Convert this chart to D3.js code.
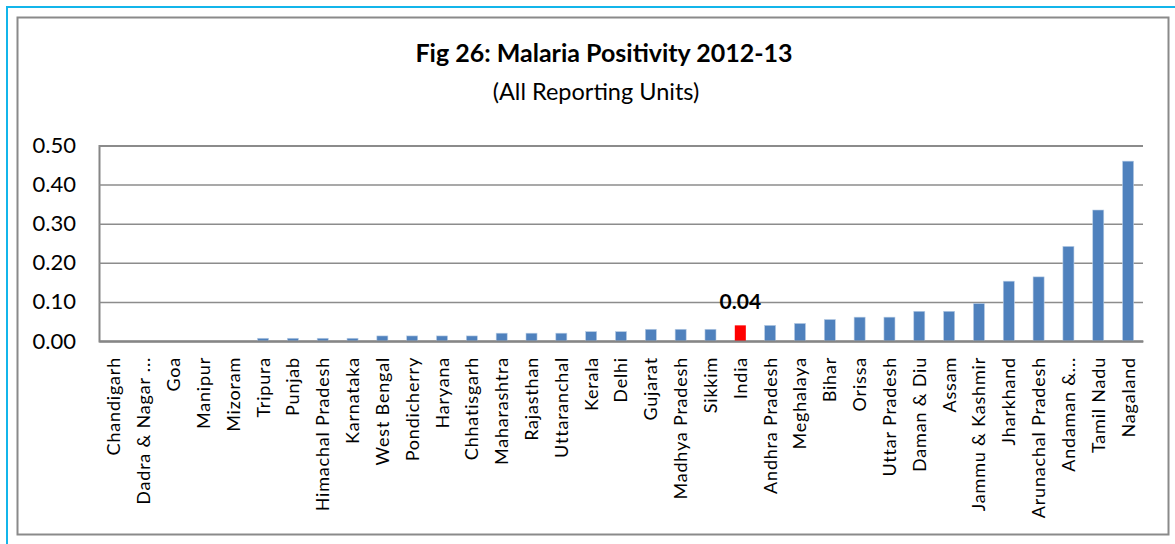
<!doctype html>
<html>
    <head>
        <title>Fig 26 Malaria Positivity</title>
        <script src="https://d3js.org/d3.v7.min.js"></script>
        <style>
            body { margin: 0; background: #fff; }
        </style>
    </head>

    <body>
        <div id="my_dataviz"></div>
        <script>
            // data
            var states = ["Chandigarh", "Dadra & Nagar ...", "Goa", "Manipur", "Mizoram", "Tripura", "Punjab",
                "Himachal Pradesh", "Karnataka", "West Bengal", "Pondicherry", "Haryana", "Chhatisgarh",
                "Maharashtra", "Rajasthan", "Uttaranchal", "Kerala", "Delhi", "Gujarat", "Madhya Pradesh",
                "Sikkim", "India", "Andhra Pradesh", "Meghalaya", "Bihar", "Orissa", "Uttar Pradesh",
                "Daman & Diu", "Assam", "Jammu & Kashmir", "Jharkhand", "Arunachal Pradesh", "Andaman &...",
                "Tamil Nadu", "Nagaland"];
            var positivity = [0, 0, 0, 0, 0, 0.007, 0.007, 0.007, 0.007, 0.013, 0.013, 0.013, 0.013,
                0.02, 0.02, 0.02, 0.024, 0.024, 0.03, 0.03, 0.03, 0.04, 0.04, 0.045, 0.055, 0.061, 0.061,
                0.076, 0.076, 0.096, 0.153, 0.164, 0.242, 0.335, 0.46];
            var yTicks = [0, 0.1, 0.2, 0.3, 0.4, 0.5];
            var highlight = "India";

            var data = states.map(function(s, i) { return {name: s, value: positivity[i]}; });

            // page size and plot area
            var W = 1175, H = 544;
            var margin = {top: 145.5, right: 32, bottom: 203, left: 99},
                width = W - margin.left - margin.right,
                height = H - margin.top - margin.bottom;

            var root = d3.select("#my_dataviz")
            .append("svg")
                .attr("width", W)
                .attr("height", H);

            // outer cyan border and grey chart frame
            root.append("rect")
                .attr("x", 7).attr("y", 7)
                .attr("width", W + 10).attr("height", H + 10)
                .attr("fill", "none")
                .attr("stroke", "#13b5ea")
                .attr("stroke-width", 2);
            root.append("rect")
                .attr("x", 17.5).attr("y", 17.5)
                .attr("width", 1151).attr("height", 517)
                .attr("fill", "#fff")
                .attr("stroke", "#8a8a8a")
                .attr("stroke-width", 2);

            // titles
            root.append("text")
                .attr("x", 604).attr("y", 62)
                .attr("text-anchor", "middle")
                .style("font-family", "Lato")
                .style("font-weight", "bold")
                .style("font-size", "25px")
                .text("Fig 26:  Malaria Positivity 2012-13");
            root.append("text")
                .attr("x", 596).attr("y", 100)
                .attr("text-anchor", "middle")
                .style("font-family", "Lato")
                .style("font-size", "23.5px")
                .text("(All Reporting Units)");

            var svg = root.append("g")
                .attr("transform", "translate(" + margin.left + "," + margin.top + ")");

            var x = d3.scaleBand()
                .domain(states)
                .range([0, width])
                .paddingInner(0.63)
                .paddingOuter(0.315);

            var y = d3.scaleLinear()
                .domain([0, 0.5])
                .range([height, 0]);

            // Y axis with gridlines
            var yAxis = svg.append("g")
                .call(d3.axisLeft(y)
                    .tickValues(yTicks)
                    .tickFormat(d3.format(".2f"))
                    .tickSize(-width)
                    .tickPadding(23));
            yAxis.select(".domain").attr("stroke", "#868686").attr("stroke-width", 2);
            yAxis.selectAll(".tick line").attr("stroke", "#8c8c8c").attr("stroke-width", 1.5);
            yAxis.selectAll(".tick text")
                .style("font-family", "Lato")
                .style("font-size", "22px")
                .attr("fill", "#000");

            // bars
            svg.selectAll(".bar")
                .data(data)
                .enter()
                .append("rect")
                .attr("class", "bar")
                .attr("x", function(d) { return x(d.name); })
                .attr("y", function(d) { return y(d.value); })
                .attr("width", x.bandwidth())
                .attr("height", function(d) { return height - y(d.value); })
                .attr("fill", function(d) { return d.name == highlight ? "#ff0000" : "#4f81bd"; })
                .attr("stroke", function(d) { return d.name == highlight ? "none" : "#b9cde5"; })
                .attr("stroke-width", 0.6);

            // value label on India
            var hi = data.filter(function(d) { return d.name == highlight; })[0];
            svg.append("text")
                .attr("x", x(hi.name) + x.bandwidth() / 2)
                .attr("y", y(hi.value) - 16)
                .attr("text-anchor", "middle")
                .style("font-family", "Lato")
                .style("font-weight", "bold")
                .style("font-size", "21px")
                .text(d3.format(".2f")(hi.value));

            // X axis with rotated state names
            var xAxis = svg.append("g")
                .attr("transform", "translate(0," + height + ")")
                .call(d3.axisBottom(x).tickSize(0).tickSizeOuter(0));
            xAxis.select(".domain").attr("stroke", "#868686").attr("stroke-width", 2);
            xAxis.selectAll(".tick text")
                .attr("transform", "rotate(-90)")
                .attr("x", -16)
                .attr("y", 0)
                .attr("dy", "0.36em")
                .style("text-anchor", "end")
                .style("font-family", "Lato")
                .style("font-size", "18px")
                .style("letter-spacing", "0.8px")
                .attr("fill", "#000");
        </script>
    </body>
</html>
